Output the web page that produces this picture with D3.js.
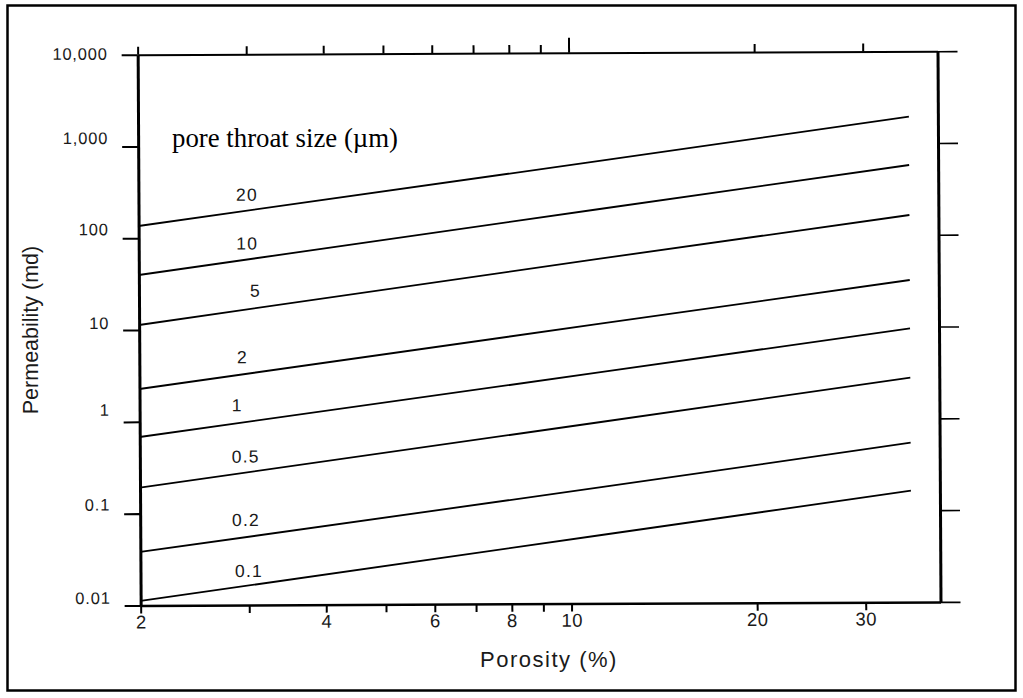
<!DOCTYPE html>
<html>
<head>
<meta charset="utf-8">
<script src="https://cdn.jsdelivr.net/npm/d3@7"></script>
<style>
  html, body { margin: 0; padding: 0; background: #fff; }
  svg { display: block; }
</style>
</head>
<body>
<svg id="chart" width="1023" height="698"></svg>
<script>
// ---------------- data ----------------
const porosity = [2, 11.2, 35.6];                 // porosity (%) where each curve was read
const poreSizes = ["20", "10", "5", "2", "1", "0.5", "0.2", "0.1"]; // pore throat size (µm)
const perm20  = [136,    662.6,  1940];
const perm10  = [39.78,  198.0,  577.4];
const perm5   = [11.35,  57.0,   164.7];
const perm2   = [2.279,  11.16,  32.26];
const perm1   = [0.6837, 3.302,  9.60];
const perm05  = [0.1916, 0.947,  2.781];
const perm02  = [0.03821, 0.1845, 0.5444];
const perm01  = [0.01118, 0.0556, 0.1633];
const permSeries = [perm20, perm10, perm5, perm2, perm1, perm05, perm02, perm01];

const xTickValues  = [2, 3, 4, 5, 6, 7, 8, 9, 10, 20, 30];
const xTickLabels  = ["2", "", "4", "", "6", "", "8", "", "10", "20", "30"];
const yTickValues  = [0.01, 0.1, 1, 10, 100, 1000, 10000];
const yTickLabels  = ["0.01", "0.1", "1", "10", "100", "1,000", "10,000"];

// ---------------- layout ----------------
const svg = d3.select("#chart");
svg.append("rect").attr("width", 1023).attr("height", 698).attr("fill", "#fff");
svg.append("rect").attr("x", 7.5).attr("y", 5.5).attr("width", 1008).attr("height", 685)
   .attr("fill", "none").attr("stroke", "#000").attr("stroke-width", 2.5);

const x = d3.scaleLog().domain([2, 39.67]).range([138.9, 938.75]);
const y = d3.scaleLog().domain([0.01, 10000]).range([603.66, 54.24]);

const sans = "'Liberation Sans', Arial, Helvetica, sans-serif";
// slight skew of the scanned original
const g = svg.append("g").attr("transform", "matrix(1,-0.00437,0.00545,1.0024,-1.54,0.914)");

// bottom axis
const gB = g.append("g").attr("transform", `translate(0,${y(0.01)})`)
  .call(d3.axisBottom(x).tickValues(xTickValues).tickSize(8).tickSizeOuter(0).tickPadding(2)
        .tickFormat((d, i) => xTickLabels[i]));
gB.select(".domain").attr("stroke-width", 2.5);
gB.selectAll(".tick line").attr("stroke-width", 2);
gB.selectAll(".tick text").attr("font-family", sans).attr("font-size", 18.5)
  .attr("letter-spacing", 0.5).attr("fill", "#1a1a1a");

// top axis (ticks only)
const gT = g.append("g").attr("transform", `translate(0,${y(10000)})`)
  .call(d3.axisTop(x).tickValues(xTickValues).tickSize(8).tickSizeOuter(0).tickFormat(""));
gT.select(".domain").attr("stroke-width", 2);
gT.selectAll(".tick line").attr("stroke-width", 2).attr("y2", d => d === 10 ? -15 : -8);

// left axis
const yNudge = [-7.5, -9, -12, -7, -9, -8.5, -1];
const gL = g.append("g").attr("transform", `translate(${x(2)},0)`)
  .call(d3.axisLeft(y).tickValues(yTickValues).tickSize(16).tickSizeOuter(0).tickPadding(14)
        .tickFormat((d, i) => yTickLabels[i]));
gL.select(".domain").attr("stroke-width", 3);
gL.selectAll(".tick line").attr("stroke-width", 2);
gL.selectAll(".tick text").attr("font-family", sans).attr("font-size", 16.5)
  .attr("letter-spacing", 0.8).attr("fill", "#1a1a1a")
  .attr("y", (d, i) => yNudge[i]);

// right axis (ticks only)
const gR = g.append("g").attr("transform", `translate(${x.range()[1]},0)`)
  .call(d3.axisRight(y).tickValues(yTickValues).tickSize(20).tickSizeOuter(0).tickFormat(""));
gR.select(".domain").attr("stroke-width", 3);
gR.selectAll(".tick line").attr("stroke-width", 1.6);

// curves
const line = d3.line().x(d => x(d[0])).y(d => y(d[1]));
permSeries.forEach(vals => {
  g.append("path")
    .datum(porosity.map((p, i) => [p, vals[i]]))
    .attr("fill", "none").attr("stroke", "#000").attr("stroke-width", 1.8)
    .attr("d", line);
});

// curve labels, placed just above each curve
const labelPhi  = [3.0, 3.0, 3.09, 2.94, 2.88, 2.97, 2.97, 3.0];
const labelLift = [16, 16, 17.5, 17, 18, 16, 17, 14.5];
poreSizes.forEach((s, i) => {
  const vals = permSeries[i];
  const t = (Math.log(labelPhi[i]) - Math.log(porosity[0])) / (Math.log(porosity[1]) - Math.log(porosity[0]));
  const kAt = Math.exp(Math.log(vals[0]) + t * (Math.log(vals[1]) - Math.log(vals[0])));
  g.append("text")
    .attr("x", x(labelPhi[i])).attr("y", y(kAt) - labelLift[i])
    .attr("text-anchor", "middle").attr("dominant-baseline", "central")
    .attr("font-family", sans).attr("font-size", 17.5).attr("letter-spacing", 1.2)
    .attr("fill", "#1a1a1a")
    .text(s);
});

// annotation
svg.append("text").attr("x", 172).attr("y", 147)
  .attr("font-family", "'Liberation Serif', 'Times New Roman', serif").attr("font-size", 26.8)
  .attr("fill", "#000").text("pore throat size (µm)");

// axis titles
svg.append("text").attr("x", 549).attr("y", 667).attr("text-anchor", "middle")
  .attr("font-family", sans).attr("font-size", 22).attr("letter-spacing", 1.5)
  .attr("fill", "#1a1a1a").text("Porosity (%)");
svg.append("text").attr("transform", "translate(37.7,330) rotate(-90)").attr("text-anchor", "middle")
  .attr("font-family", sans).attr("font-size", 21.5).attr("fill", "#1a1a1a").text("Permeability (md)");
</script>
</body>
</html>
